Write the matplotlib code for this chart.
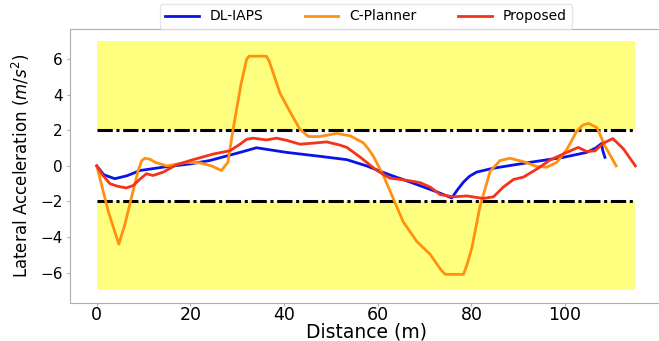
"""Lateral acceleration comparison of three planners."""

import matplotlib

matplotlib.use("Agg")
import matplotlib.pyplot as plt
import numpy as np

# ---------------------------------------------------------------------------
# Data
# ---------------------------------------------------------------------------
dl_iaps_s = [0, 1.5, 3.85, 6.5, 9.2, 14.2, 19.9, 24.1, 30.6, 34.1, 40.5, 47.6,
             53.4, 57.6, 61.9, 66.9, 72.6, 75.8, 77.0, 78.3, 79.6, 81.1, 84.0, 86.1,
             92.5, 99.6, 104.6, 106.5, 107.8, 108.0, 108.5]
dl_iaps_a = [0, -0.5, -0.72, -0.55, -0.26, -0.07, 0.11, 0.3, 0.76, 1.02, 0.76, 0.54,
             0.35, 0.0, -0.44, -0.91, -1.46, -1.8, -1.35, -0.91, -0.58, -0.35, -0.17, -0.07,
             0.2, 0.48, 0.76, 1.0, 1.26, 0.9, 0.48]

c_planner_s = [0, 2.5, 4.7, 6.0, 7.2, 8.8, 9.6, 10.3, 11.3, 12.5, 14.9, 19.2, 22.0,
               24.5, 26.6, 28.0, 29.1, 30.8, 32.0, 32.5, 36.2, 36.8, 37.7, 39.1, 41.2,
               43.4, 45.2, 47.6, 51.2, 54.1, 56.9, 58.0, 59.0, 61.2, 63.3, 65.4, 68.3,
               71.2, 73.5, 74.4, 78.3, 79.0, 80.1, 81.8, 84.0, 86.1, 88.2, 91.1, 94.0,
               96.1, 98.2, 100.4, 102.5, 103.8, 105.0, 106.8, 108.5, 110.9]
c_planner_a = [0, -2.6, -4.4, -3.3, -2.0, -0.3, 0.3, 0.43, 0.38, 0.2, 0.0, 0.2, 0.17,
               0.0, -0.26, 0.2, 2.05, 4.6, 6.0, 6.17, 6.17, 5.9, 5.2, 4.1, 3.07,
               2.05, 1.65, 1.65, 1.83, 1.69, 1.3, 0.95, 0.57, -0.54, -1.83, -3.13, -4.24,
               -4.98, -5.85, -6.1, -6.1, -5.6, -4.6, -2.3, -0.3, 0.3, 0.43, 0.24, -0.04,
               -0.07, 0.2, 0.94, 1.96, 2.3, 2.39, 2.15, 1.13, 0.0]

proposed_s = [0, 1.2, 2.8, 4.5, 6.3, 7.8, 9.2, 10.6, 12.0, 14.2, 17.0, 19.9, 24.9,
              28.4, 30.6, 32.0, 33.4, 36.2, 38.4, 40.5, 43.4, 46.2, 49.1, 51.9,
              53.4, 56.2, 59.8, 62.6, 66.2, 69.0, 71.2, 73.3, 76.1, 79.0, 82.5,
              84.7, 86.8, 89.0, 91.1, 94.0, 96.8, 99.6, 102.8, 104.6, 106.4, 108.2,
              110.2, 112.5, 115.0]
proposed_a = [0, -0.5, -1.0, -1.15, -1.24, -1.1, -0.75, -0.44, -0.54, -0.35, 0.06, 0.3, 0.67,
              0.85, 1.22, 1.5, 1.56, 1.46, 1.56, 1.44, 1.22, 1.28, 1.35, 1.17,
              1.04, 0.5, -0.26, -0.69, -0.81, -0.94, -1.19, -1.61, -1.74, -1.69, -1.83,
              -1.74, -1.19, -0.76, -0.63, -0.17, 0.33, 0.67, 1.04, 0.81, 0.85, 1.28,
              1.54, 0.94, 0.0]

limit = 2.0
band = 7.0

fig = plt.figure(figsize=(6.59, 3.41), dpi=100)
ax = fig.add_axes([0.106, 0.112, 0.899, 0.803])

x_end = max(proposed_s)
ax.fill_between([0, x_end], limit, band, color="yellow", alpha=0.5, linewidth=0)
ax.fill_between([0, x_end], -band, -limit, color="yellow", alpha=0.5, linewidth=0)
ax.plot([0, x_end], [limit, limit], color="black", linewidth=2.2,
        linestyle=(0, (5, 1.2, 1, 1.2)))
ax.plot([0, x_end], [-limit, -limit], color="black", linewidth=2.2,
        linestyle=(0, (5, 1.2, 1, 1.2)))

ax.plot(dl_iaps_s, dl_iaps_a, color="#0a14e6", linewidth=2, label="DL-IAPS")
ax.plot(c_planner_s, c_planner_a, color="#ff9010", linewidth=2, label="C-Planner")
ax.plot(proposed_s, proposed_a, color="#f53318", linewidth=2, label="Proposed")

ax.set_xlim(-5.75, 120.75)
ax.set_ylim(-7.7, 7.7)
ax.set_xticks([0, 20, 40, 60, 80, 100])
ax.set_yticks([-6, -4, -2, 0, 2, 4, 6])
ax.tick_params(axis="x", labelsize=12.5, length=2, color="#b0b0b0", pad=0.5)
ax.tick_params(axis="y", labelsize=11, length=2, color="#b0b0b0", pad=3)
for sp in ax.spines.values():
    sp.set_color("#b0b0b0")

ax.set_xlabel("Distance (m)", fontsize=13.5, labelpad=-1)
ax.set_ylabel("Lateral Acceleration $(m/s^2)$", fontsize=12, labelpad=6)

ax.legend(loc="lower center", bbox_to_anchor=(0.5, 0.99), ncol=3, fontsize=10,
          handlelength=2.4, columnspacing=3.0, borderaxespad=0.2, frameon=True,
          fancybox=True, edgecolor="#e0e0e0")

fig.savefig("out.png", dpi=100)
